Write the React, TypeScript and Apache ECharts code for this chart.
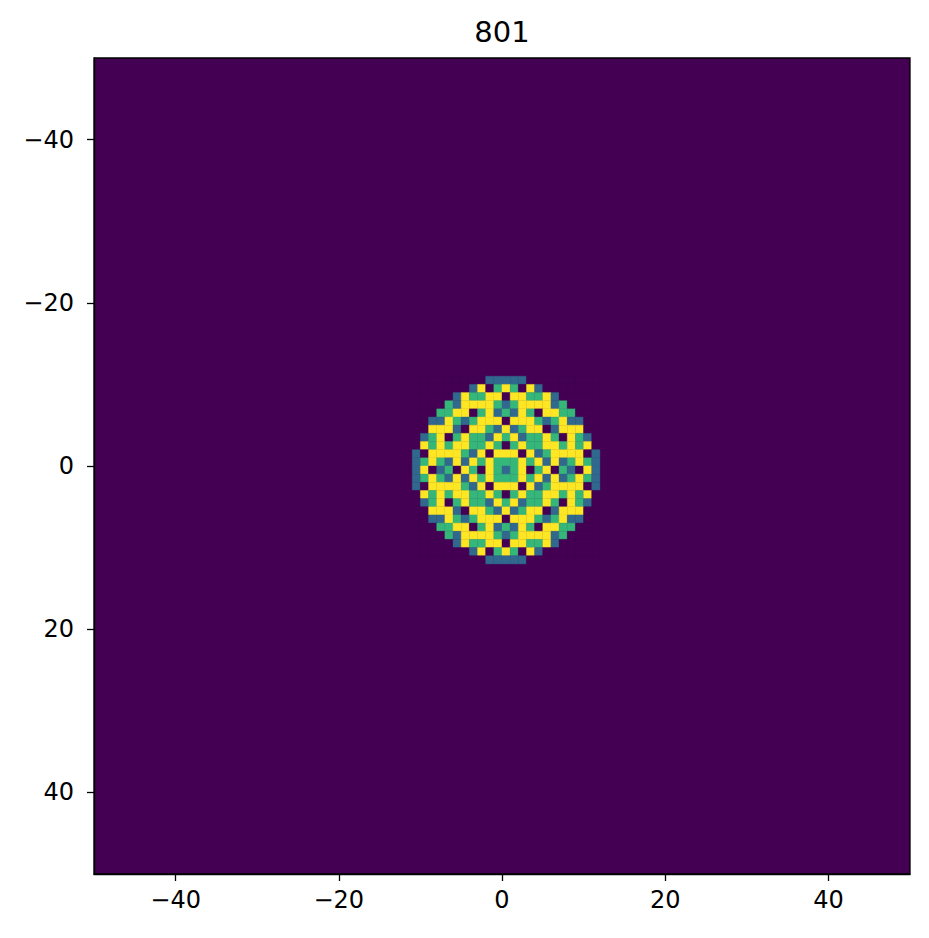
import React, { useEffect, useRef } from "react";
import * as echarts from "echarts";

const TITLE = "801";
// Cell values (0..3) of the central window, rows from y = -11 to y = 11, columns from x = -11 to x = 11
const FIRST_ROW = -11;
const FIRST_COL = -11;
const ROWS: string[] = [
  "00000000011111000000000",
  "00000001302320310000000",
  "00000132233033223100000",
  "00002133332123333120000",
  "00022330231213203322000",
  "00113212333033321231100",
  "00333103321312330133300",
  "01230232213231223203210",
  "03232332232023223323230",
  "10333321303330312333301",
  "12321313232223231312321",
  "13012032032123023021031",
  "12321313232223231312321",
  "10333321303330312333301",
  "03232332232023223323230",
  "01230232213231223203210",
  "00333103321312330133300",
  "00113212333033321231100",
  "00022330231213203322000",
  "00002133332123333120000",
  "00000132233033223100000",
  "00000001302320310000000",
  "00000000011111000000000",
];
const AXIS_MIN = -50;
const AXIS_MAX = 50;
const TICKS = [-40, -20, 0, 20, 40];
const COLORS = ["#440154", "#31688e", "#35b779", "#fde725"];

const fmt = (v: number) => String(v).replace("-", "\u2212");

export default function App() {
  const ref = useRef<HTMLDivElement>(null);
  useEffect(() => {
    if (!ref.current) return;
    const chart = echarts.init(ref.current, null, { renderer: "svg" });
    const cells: number[][] = [];
    ROWS.forEach((row, r) => {
      for (let c = 0; c < row.length; c++) {
        cells.push([FIRST_COL + c, FIRST_ROW + r, Number(row[c])]);
      }
    });
    const axisCommon = {
      type: "value",
      min: AXIS_MIN,
      max: AXIS_MAX,
      splitLine: { show: false },
      axisLine: { show: true, onZero: false, lineStyle: { color: "#000", width: 1.3 } },
      axisTick: {
        show: true,
        inside: false,
        length: 7,
        customValues: TICKS,
        lineStyle: { color: "#000", width: 1.3 },
      },
    };
    chart.setOption({
      animation: false,
      backgroundColor: "#ffffff",
      grid: {
        left: 94,
        top: 58,
        width: 816,
        height: 816,
        show: true,
        backgroundColor: COLORS[0],
        borderColor: "#000",
        borderWidth: 1.3,
      },
      xAxis: {
        ...axisCommon,
        axisLabel: {
          customValues: TICKS,
          formatter: fmt,
          color: "#000",
          fontSize: 24,
          fontFamily: "DejaVu Sans",
          margin: 14,
        },
      },
      yAxis: {
        ...axisCommon,
        inverse: true,
        axisLabel: {
          customValues: TICKS,
          formatter: fmt,
          color: "#000",
          fontSize: 24,
          fontFamily: "DejaVu Sans",
          margin: 20,
        },
      },
      graphic: [
        {
          type: "text",
          x: 502,
          y: 32,
          style: {
            text: TITLE,
            fill: "#000",
            font: "29px 'DejaVu Sans'",
            textAlign: "center",
            textVerticalAlign: "middle",
          },
        },
      ],
      series: [
        {
          type: "custom",
          data: cells,
          encode: { x: 0, y: 1 },
          renderItem: (params: any, api: any) => {
            const x = api.value(0);
            const y = api.value(1);
            const v = api.value(2);
            const a = api.coord([x, y]);
            const b = api.coord([x + 1, y + 1]);
            return {
              type: "rect",
              shape: {
                x: Math.min(a[0], b[0]),
                y: Math.min(a[1], b[1]),
                width: Math.abs(b[0] - a[0]),
                height: Math.abs(b[1] - a[1]),
              },
              style: { fill: COLORS[v], stroke: COLORS[v], lineWidth: 0.4 },
            };
          },
        },
      ],
    });
    return () => chart.dispose();
  }, []);
  return (
    <div
      ref={ref}
      style={{ position: "fixed", left: 0, top: 0, width: 929, height: 938 }}
    />
  );
}
